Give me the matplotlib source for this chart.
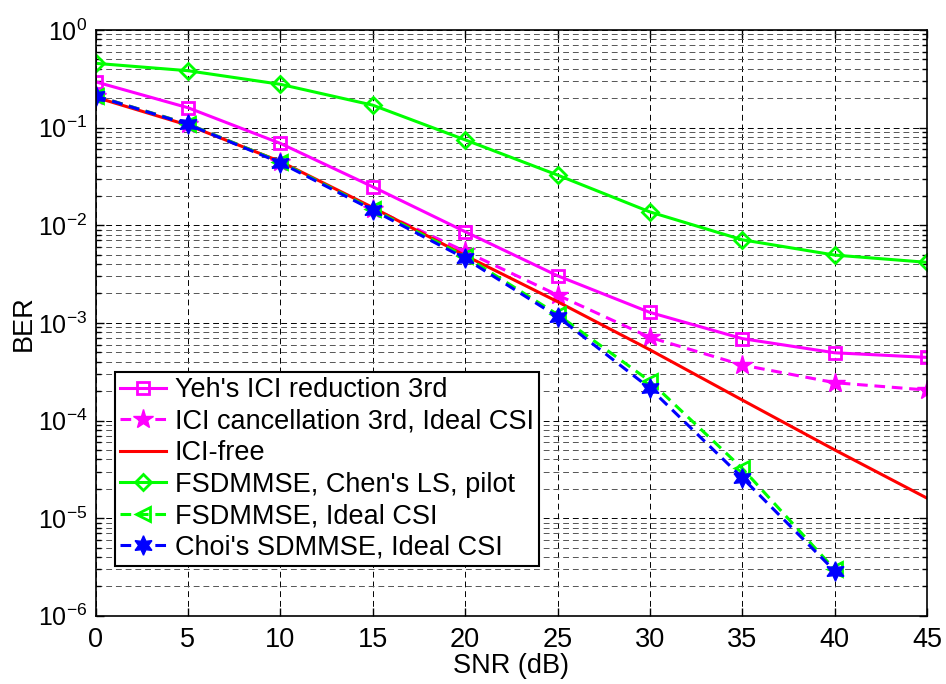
import matplotlib
matplotlib.use("Agg")
import matplotlib.pyplot as plt
import numpy as np

plt.rcParams['font.family'] = ['Liberation Sans', 'DejaVu Sans']
plt.rcParams['mathtext.fontset'] = 'custom'
plt.rcParams['mathtext.rm'] = 'Liberation Sans'
plt.rcParams['mathtext.it'] = 'Liberation Sans'
plt.rcParams['mathtext.default'] = 'regular'

snr = [0, 5, 10, 15, 20, 25, 30, 35, 40, 45]
snr_ideal = [0, 5, 10, 15, 20, 25, 30, 35, 40]

ber_yeh = [0.295, 0.160, 0.069, 0.0248, 0.0086, 0.00304, 0.00128, 0.00069, 0.000494, 0.000443]
ber_ici_cancel = [0.212, 0.109, 0.0445, 0.0148, 0.0054, 0.00193, 0.00071, 0.00037, 0.000244, 0.000205]
ber_ici_free = [0.205, 0.106, 0.045, 0.0152, 0.0049, 0.00165, 0.00053, 0.000162, 5.0e-5, 1.6e-5]
ber_fsd_chen = [0.456, 0.383, 0.278, 0.170, 0.075, 0.0327, 0.0137, 0.0071, 0.00495, 0.00417]
ber_fsd_ideal = [0.212, 0.109, 0.0445, 0.0146, 0.0048, 0.00122, 0.000253, 3.23e-5, 2.98e-6]
ber_choi = [0.211, 0.108, 0.0437, 0.0143, 0.00457, 0.00116, 0.000214, 2.59e-5, 2.88e-6]

labels = ["Yeh's ICI reduction 3rd",
          "ICI cancellation 3rd, Ideal CSI",
          "ICI-free",
          "FSDMMSE, Chen's LS, pilot",
          "FSDMMSE, Ideal CSI",
          "Choi's SDMMSE, Ideal CSI"]

fs = 19.5

fig = plt.figure(figsize=(9.46, 6.84), dpi=100)
ax = fig.add_axes([0.101, 0.0998, 0.879, 0.8563])

lw = 2.2
dash = (0, (3.5, 2.2))
ax.plot(snr, ber_yeh, color='#ff00ff', lw=lw, marker='s', ms=9,
        mfc='none', mec='#ff00ff', mew=2, label=labels[0])
ax.plot(snr, ber_ici_cancel, color='#ff00ff', lw=lw, ls=dash, marker='*', ms=15,
        mfc='#ff00ff', mec='#ff00ff', label=labels[1])
ax.plot(snr, ber_ici_free, color='#ff0000', lw=lw, label=labels[2])
ax.plot(snr, ber_fsd_chen, color='#00ff00', lw=lw, marker='D', ms=8,
        mfc='none', mec='#00ff00', mew=2, label=labels[3])
ax.plot(snr_ideal, ber_fsd_ideal, color='#00ff00', lw=lw, ls=dash, marker='<', ms=10,
        mfc='none', mec='#00ff00', mew=2, label=labels[4])
ax.plot(snr_ideal, ber_choi, color='#0000ff', lw=lw, ls=dash, marker=(6, 1, 0), ms=14,
        mfc='#0000ff', mec='#0000ff', label=labels[5])

ax.set_yscale('log')
ax.set_xlim(0, 45)
ax.set_ylim(1e-6, 1)
ax.set_xticks(snr)
ax.set_yticks([10.0**k for k in range(-6, 1)])
ax.set_yticklabels([r'$10^{%d}$' % k for k in range(-6, 1)])
ax.yaxis.set_minor_locator(matplotlib.ticker.LogLocator(base=10, subs=np.arange(2, 10), numticks=20))
ax.yaxis.set_minor_formatter(matplotlib.ticker.NullFormatter())

ax.grid(True, which='major', color='#000000', ls=(0, (6, 4)), lw=0.7)
ax.grid(True, which='minor', axis='y', color='#555555', ls=(0, (6, 4)), lw=0.7)

ax.tick_params(which='both', direction='in', top=True, right=True,
               width=1, color='black')
ax.tick_params(which='major', length=6)
ax.tick_params(which='minor', length=3.5)
ax.tick_params(axis='x', pad=8, labelsize=fs)
ax.tick_params(axis='y', pad=6, labelsize=18)
for s in ax.spines.values():
    s.set_linewidth(1.2)

ax.set_xlabel('SNR (dB)', fontsize=fs, labelpad=0)
ax.set_ylabel('BER', fontsize=fs)
ax.yaxis.set_label_coords(-0.071, 0.5)

leg = ax.legend(loc='upper left', bbox_to_anchor=(115 / 946, 1 - 372 / 684),
                bbox_transform=fig.transFigure, fontsize=fs, frameon=True,
                fancybox=False, edgecolor='black', framealpha=1,
                handlelength=1.7, handletextpad=0.3, labelspacing=0.2,
                borderpad=0.2, borderaxespad=0)
leg.get_frame().set_linewidth(1.5)

fig.savefig('out.png', dpi=100)
